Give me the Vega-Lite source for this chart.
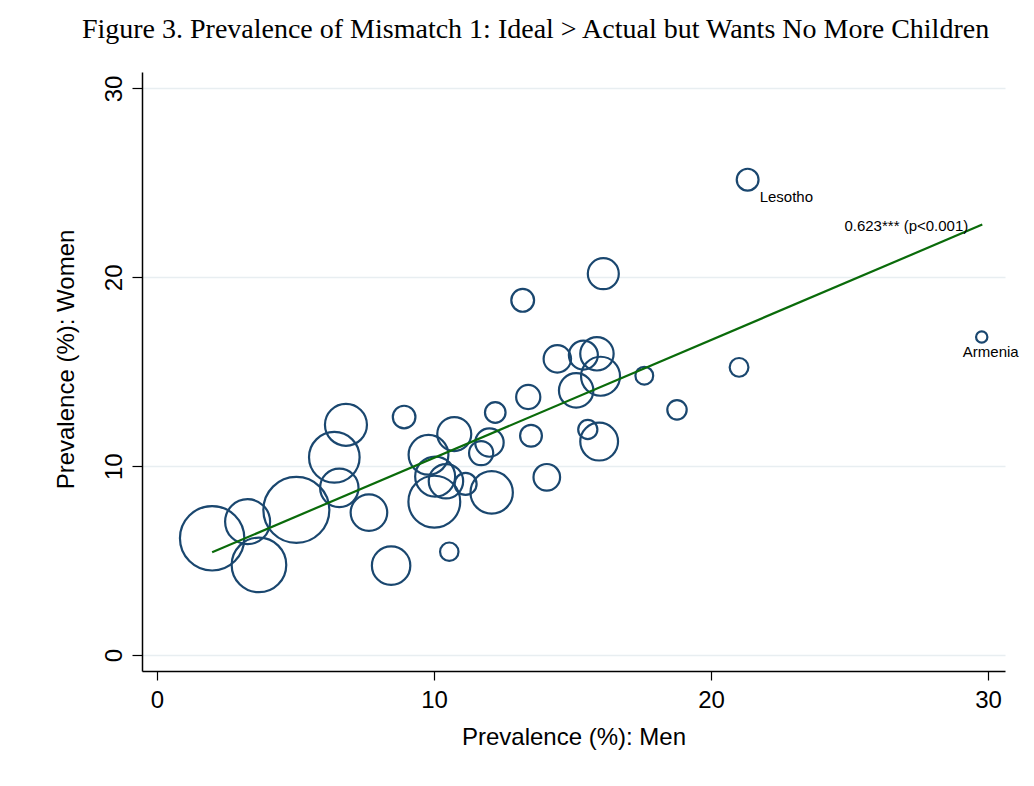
{
  "$schema": "https://vega.github.io/schema/vega-lite/v6.json",
  "width": 863,
  "height": 599,
  "autosize": "none",
  "padding": {"left": 142, "top": 72, "right": 29, "bottom": 115},
  "background": "white",
  "config": {"view": {"stroke": null}, "font": "Liberation Sans"},
  "title": {
    "text": "Figure 3. Prevalence of Mismatch 1: Ideal > Actual but Wants No More Children",
    "font": "Liberation Serif",
    "fontSize": 28,
    "fontWeight": "normal",
    "color": "black",
    "anchor": "middle",
    "baseline": "alphabetic",
    "dx": -38,
    "offset": 6
  },
  "datasets": {
    "countries": [
      {"men": 1.99, "women": 6.18, "w": 1037},
      {"men": 3.27, "women": 7.06, "w": 506},
      {"men": 3.68, "women": 4.77, "w": 745},
      {"men": 5.03, "women": 7.68, "w": 1089},
      {"men": 6.82, "women": 12.19, "w": 441},
      {"men": 6.40, "women": 10.47, "w": 640},
      {"men": 6.58, "women": 8.85, "w": 369},
      {"men": 7.65, "women": 7.54, "w": 335},
      {"men": 8.45, "women": 4.73, "w": 369},
      {"men": 8.92, "women": 12.60, "w": 128},
      {"men": 9.80, "women": 10.60, "w": 396},
      {"men": 10.73, "women": 11.70, "w": 289},
      {"men": 10.04, "women": 9.45, "w": 400},
      {"men": 10.01, "women": 8.12, "w": 671},
      {"men": 10.43, "women": 9.20, "w": 296},
      {"men": 10.55, "women": 5.47, "w": 85},
      {"men": 11.14, "women": 9.06, "w": 121},
      {"men": 11.70, "women": 10.69, "w": 146},
      {"men": 12.00, "women": 11.25, "w": 202},
      {"men": 12.21, "women": 12.84, "w": 106},
      {"men": 12.08, "women": 8.61, "w": 449},
      {"men": 13.20, "women": 18.78, "w": 130},
      {"men": 13.40, "women": 13.66, "w": 146},
      {"men": 13.50, "women": 11.61, "w": 119},
      {"men": 14.07, "women": 9.41, "w": 177},
      {"men": 14.45, "women": 15.68, "w": 188},
      {"men": 15.39, "women": 15.88, "w": 210},
      {"men": 15.88, "women": 15.95, "w": 279},
      {"men": 16.01, "women": 14.76, "w": 380},
      {"men": 15.13, "women": 14.01, "w": 296},
      {"men": 15.55, "women": 11.94, "w": 92},
      {"men": 15.96, "women": 11.30, "w": 357},
      {"men": 16.11, "women": 20.19, "w": 240},
      {"men": 17.59, "women": 14.79, "w": 79},
      {"men": 18.77, "women": 12.98, "w": 94},
      {"men": 21.01, "women": 15.23, "w": 88},
      {"country": "Lesotho", "men": 21.32, "women": 25.17, "w": 119},
      {"country": "Armenia", "men": 29.77, "women": 16.84, "w": 32}
    ],
    "fit": [
      {"men": 1.99, "women": 5.44},
      {"men": 29.79, "women": 22.79}
    ],
    "note": [
      {"men": 29.79, "women": 22.79, "label": "0.623*** (p<0.001)"}
    ]
  },
  "encoding": {
    "x": {
      "field": "men",
      "type": "quantitative",
      "scale": {"domain": [-0.542, 30.61], "nice": false, "zero": false},
      "axis": {
        "values": [0, 10, 20, 30],
        "title": "Prevalence (%): Men",
        "grid": false,
        "domainColor": "black",
        "domainWidth": 1.5,
        "tickColor": "black",
        "tickSize": 9,
        "tickWidth": 1.2,
        "labelFontSize": 24,
        "labelColor": "black",
        "labelPadding": 8,
        "titleFontSize": 24,
        "titleFontWeight": "normal",
        "titleColor": "black",
        "titlePadding": 13
      }
    },
    "y": {
      "field": "women",
      "type": "quantitative",
      "scale": {"domain": [-0.847, 30.87], "nice": false, "zero": false},
      "axis": {
        "values": [0, 10, 20, 30],
        "title": "Prevalence (%): Women",
        "grid": true,
        "gridColor": "#e8eef1",
        "gridWidth": 1.5,
        "domainColor": "black",
        "domainWidth": 1.5,
        "tickColor": "black",
        "tickSize": 10,
        "tickWidth": 1.2,
        "labelFontSize": 24,
        "labelColor": "black",
        "labelAngle": -90,
        "labelAlign": "center",
        "labelBaseline": "bottom",
        "labelPadding": 6,
        "titleFontSize": 24,
        "titleFontWeight": "normal",
        "titleColor": "black",
        "titlePadding": 24,
        "titleY": 287
      }
    }
  },
  "layer": [
    {
      "data": {"name": "countries"},
      "mark": {"type": "point", "shape": "circle", "filled": false, "opacity": 1, "stroke": "#1a476f", "strokeWidth": 2.2},
      "encoding": {
        "size": {"field": "w", "type": "quantitative", "scale": {"domain": [0, 1000], "range": [0, 4000], "zero": true}, "legend": null}
      }
    },
    {
      "data": {"name": "fit"},
      "mark": {"type": "line", "color": "#0a6b0a", "strokeWidth": 2.2},
      "encoding": {}
    },
    {
      "data": {"name": "countries"},
      "transform": [{"filter": "datum.country === 'Lesotho'"}],
      "mark": {"type": "text", "align": "left", "baseline": "alphabetic", "dx": 12, "dy": 22, "fontSize": 15, "color": "black"},
      "encoding": {"text": {"field": "country"}}
    },
    {
      "data": {"name": "countries"},
      "transform": [{"filter": "datum.country === 'Armenia'"}],
      "mark": {"type": "text", "align": "center", "baseline": "alphabetic", "dx": 9, "dy": 20, "fontSize": 15, "color": "black"},
      "encoding": {"text": {"field": "country"}}
    },
    {
      "data": {"name": "note"},
      "mark": {"type": "text", "align": "right", "baseline": "alphabetic", "dx": -14, "dy": 6, "fontSize": 15, "color": "black"},
      "encoding": {"text": {"field": "label"}}
    }
  ]
}
